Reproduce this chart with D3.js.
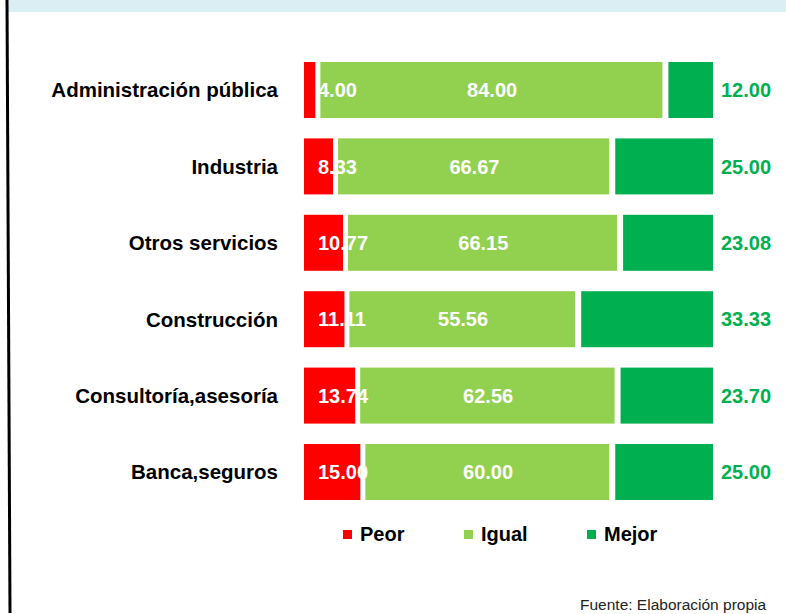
<!DOCTYPE html>
<html>
<head>
<meta charset="utf-8">
<script src="https://cdn.jsdelivr.net/npm/d3@7"></script>
<style>
  html, body { margin: 0; padding: 0; background: #fff; }
  svg { display: block; }
</style>
</head>
<body>
<div id="chart"></div>
<script>
// Chart data
const categories = ["Administración pública", "Industria", "Otros servicios", "Construcción", "Consultoría,asesoría", "Banca,seguros"];
const peor  = [4.00, 8.33, 10.77, 11.11, 13.74, 15.00];
const igual = [84.00, 66.67, 66.15, 55.56, 62.56, 60.00];
const mejor = [12.00, 25.00, 23.08, 33.33, 23.70, 25.00];
const seriesNames = ["Peor", "Igual", "Mejor"];
const seriesColors = ["#ff0000", "#92d050", "#00b050"];

const width = 786, height = 614;
const font = "'Liberation Sans', Arial, sans-serif";

const svg = d3.select("#chart").append("svg")
  .attr("width", width)
  .attr("height", height);

// top band and left frame line
svg.append("rect")
  .attr("x", 8).attr("y", 0)
  .attr("width", width - 8).attr("height", 12)
  .attr("fill", "#daeef3");
svg.append("line")
  .attr("x1", 7).attr("y1", 0)
  .attr("x2", 10).attr("y2", 613)
  .attr("stroke", "#000")
  .attr("stroke-width", 3);

// scales
const x = d3.scaleLinear().domain([0, 100]).range([304, 713]);
const y = d3.scaleBand()
  .domain(categories)
  .range([51.8, 510.2])
  .paddingInner(0.267)
  .paddingOuter(0.1335);

const rows = categories.map((c, i) => ({ cat: c, vals: [peor[i], igual[i], mejor[i]] }));
const stacked = d3.stack().keys([0, 1, 2]).value((d, k) => d.vals[k])(rows);

// white gaps between segments: [left inset, right inset]
const insets = [[0, 5], [0, 1.5], [4.5, 0]];

const g = svg.append("g");
stacked.forEach((layer, k) => {
  g.selectAll(".seg" + k)
    .data(layer)
    .enter()
    .append("rect")
    .attr("x", d => x(d[0]) + insets[k][0])
    .attr("y", d => y(d.data.cat))
    .attr("width", d => Math.max(0, x(d[1]) - x(d[0]) - insets[k][0] - insets[k][1]))
    .attr("height", y.bandwidth())
    .attr("fill", seriesColors[k]);
});

const labelSize = "20px";

// Peor labels (inside base, white)
g.selectAll(".lab0")
  .data(stacked[0])
  .enter()
  .append("text")
  .attr("x", d => x(d[0]) + 14)
  .attr("y", d => y(d.data.cat) + y.bandwidth() / 2)
  .attr("dy", "0.36em")
  .attr("fill", "#fff")
  .attr("font-family", font)
  .attr("font-weight", "bold")
  .attr("font-size", labelSize)
  .text(d => d.data.vals[0].toFixed(2));

// Igual labels (centered, white)
g.selectAll(".lab1")
  .data(stacked[1])
  .enter()
  .append("text")
  .attr("x", d => (x(d[0]) + x(d[1])) / 2)
  .attr("y", d => y(d.data.cat) + y.bandwidth() / 2)
  .attr("dy", "0.36em")
  .attr("text-anchor", "middle")
  .attr("fill", "#fff")
  .attr("font-family", font)
  .attr("font-weight", "bold")
  .attr("font-size", labelSize)
  .text(d => d.data.vals[1].toFixed(2));

// Mejor labels (outside end, green)
g.selectAll(".lab2")
  .data(stacked[2])
  .enter()
  .append("text")
  .attr("x", d => x(d[1]) + 8)
  .attr("y", d => y(d.data.cat) + y.bandwidth() / 2)
  .attr("dy", "0.36em")
  .attr("fill", "#00b050")
  .attr("font-family", font)
  .attr("font-weight", "bold")
  .attr("font-size", labelSize)
  .text(d => d.data.vals[2].toFixed(2));

// category axis labels
svg.append("g")
  .selectAll("text")
  .data(categories)
  .enter()
  .append("text")
  .attr("x", 278)
  .attr("y", d => y(d) + y.bandwidth() / 2)
  .attr("dy", "0.36em")
  .attr("text-anchor", "end")
  .attr("fill", "#000")
  .attr("font-family", font)
  .attr("font-weight", "bold")
  .attr("font-size", "20.5px")
  .text(d => d);

// legend
const legendX = [343, 464, 587];
const legend = svg.append("g")
  .selectAll("g")
  .data(seriesNames)
  .enter()
  .append("g")
  .attr("transform", (d, i) => `translate(${legendX[i]},534)`);
legend.append("rect")
  .attr("x", 0).attr("y", -4)
  .attr("width", 9).attr("height", 9)
  .attr("fill", (d, i) => seriesColors[i]);
legend.append("text")
  .attr("x", 17)
  .attr("y", 0)
  .attr("dy", "0.36em")
  .attr("fill", "#000")
  .attr("font-family", font)
  .attr("font-weight", "bold")
  .attr("font-size", labelSize)
  .text(d => d);

// source note
svg.append("text")
  .attr("x", 580)
  .attr("y", 610)
  .attr("fill", "#222")
  .attr("font-family", font)
  .attr("font-size", "15.5px")
  .text("Fuente: Elaboración propia");
</script>
</body>
</html>
